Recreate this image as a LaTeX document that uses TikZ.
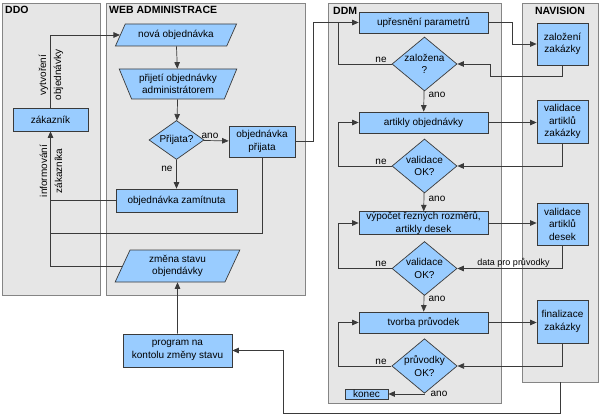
\documentclass[tikz,border=0pt]{standalone}
\usepackage{fontspec}
\setmainfont{Liberation Sans}
\usetikzlibrary{shapes.geometric,arrows.meta}
\definecolor{lanefill}{HTML}{E6E6E6}
\definecolor{laneline}{HTML}{858585}
\definecolor{nodefill}{HTML}{99CCFF}
\definecolor{lineclr}{HTML}{3A3A3A}
\begin{document}
\begin{tikzpicture}[x=1pt,y=-1pt,
  lane/.style={draw=laneline, fill=lanefill, line width=0.9pt, anchor=north west, inner sep=0},
  lanetitle/.style={font=\fontsize{10.5}{12}\selectfont\bfseries, anchor=west, inner sep=0},
  box/.style={draw=lineclr, fill=nodefill, line width=0.7pt, inner sep=0, align=center, font=\fontsize{10}{12.5}\selectfont},
  dia/.style={box, diamond, aspect=1.2},
  para/.style={box, trapezium, trapezium stretches=true},
  conn/.style={draw=lineclr, line width=0.7pt},
  arr/.style={conn, -{Triangle[length=6.5pt,width=5.5pt]}},
  lbl/.style={font=\fontsize{10}{12}\selectfont, inner sep=0},
  rlbl/.style={font=\fontsize{10}{15}\selectfont, inner sep=0, rotate=90, align=center},
]
\useasboundingbox (0,0) rectangle (600,417);
% lanes
\node[lane, minimum width=98pt, minimum height=292pt] (ddo) at (2,3) {};
\node[lane, minimum width=199pt, minimum height=292pt] (web) at (106,3) {};
\node[lane, minimum width=172.5pt, minimum height=400pt] (ddm) at (328,3) {};
\node[lane, minimum width=76pt, minimum height=379pt] (nav) at (522,3) {};
\node[lanetitle] (tddo) at (5,10) {DDO};
\node[lanetitle] (tweb) at (109,10) {WEB ADMINISTRACE};
\node[lanetitle] (tddm) at (333,11) {DDM};
\node[lanetitle, anchor=center] (tnav) at (560,11) {NAVISION};
% DDO + WEB nodes
\node[box, minimum width=75pt, minimum height=23pt] (zak) at (50.5,119.5) {zákazník};
\node[para, minimum width=122pt, minimum height=22pt, trapezium left angle=52.3, trapezium right angle=127.7] (nova) at (176,35) {nová objednávka};
\node[para, minimum width=118pt, minimum height=30pt, trapezium left angle=62.5, trapezium right angle=62.5, shape border rotate=180] (prij) at (178,84) {přijetí objednávky\\administrátorem};
\node[dia, minimum width=55pt, minimum height=39pt] (pq) at (176.5,140) {Přijata?};
\node[box, minimum width=66pt, minimum height=31pt] (pok) at (262,141.5) {objednávka\\přijata};
\node[box, minimum width=121pt, minimum height=23pt] (zam) at (176.5,200.5) {objednávka zamítnuta};
\node[para, minimum width=125pt, minimum height=32pt, trapezium left angle=67.9, trapezium right angle=112.1] (zmena) at (177.5,266) {změna stavu\\objendávky};
\node[box, minimum width=109pt, minimum height=33pt] (prog) at (177.5,350.5) {program na\\kontolu změny stavu};
% DDM nodes
\node[box, minimum width=129pt, minimum height=21pt] (upr) at (423.5,22.5) {upřesnění parametrů};
\node[dia, minimum width=65pt, minimum height=54pt] (zq) at (424.5,64) {založena\\?};
\node[box, minimum width=129pt, minimum height=21pt] (art) at (423.5,122.5) {artikly objednávky};
\node[dia, minimum width=65pt, minimum height=54pt] (v1) at (424.5,166) {validace\\OK?};
\node[box, minimum width=129pt, minimum height=22pt] (vyp) at (423.5,223) {výpočet řezných rozměrů,\\artikly desek};
\node[dia, minimum width=65pt, minimum height=54pt] (v2) at (424.5,268.5) {validace\\OK?};
\node[box, minimum width=129pt, minimum height=21pt] (tvor) at (423.5,322.5) {tvorba průvodek};
\node[dia, minimum width=65pt, minimum height=54pt] (v3) at (424.5,366) {průvodky\\OK?};
\node[box, minimum width=43pt, minimum height=10pt] (konec) at (366.5,394) {konec};
% NAVISION nodes
\node[box, minimum width=51pt, minimum height=42pt] (zal) at (562.5,44) {založení\\zakázky};
\node[box, minimum width=51pt, minimum height=43pt] (vart) at (562.5,121.5) {validace\\artiklů\\zakázky};
\node[box, minimum width=51pt, minimum height=42pt] (vdes) at (562.5,224) {validace\\artiklů\\desek};
\node[box, minimum width=51pt, minimum height=43pt] (fin) at (562.5,321.5) {finalizace\\zakázky};
% coordinates
\coordinate (cinf) at (50.5,233);
\coordinate (nb) at (560.5,382);
% left connectors
\draw[arr] (zak.north) |- (nova.west);
\draw[arr] (nova) -- (prij);
\draw[arr] (prij) -- (pq);
\draw[arr] (pq) -- (pok);
\draw[arr] (pq) -- (zam);
\draw[arr] (zmena.west) -| (zak.south);
\draw[conn] (zam.west) -- (zam.west -| zak.south);
\draw[conn] (pok.south) |- (cinf);
\draw[arr] (prog) -- (zmena);
\draw[arr] (nb) -- (560.5,413) -- (283,413) |- (prog.east);
\draw[arr] (pok.east) -- (313,141.5) |- (upr.west);
\node[rlbl] (lvytv) at (51,75) {vytvoření\\objednávky};
\node[rlbl] (linf) at (51,171) {informování\\zákazníka};
\node[lbl] (lano0) at (210,135.5) {ano};
\node[lbl] (lne0) at (167,169) {ne};
% DDM connectors
\draw[arr] (upr.east) -- ++(24,0) |- (zal.west);
\draw[arr] (zal.south) -- ++(0,11) -| ([xshift=33pt]zq.east) -- (zq.east);
\draw[conn] (zq.west) -| ([xshift=-20pt]upr.west);
\draw[arr] (zq) -- (art);
\draw[arr] (art.east) -- (art.east -| vart.west);
\draw[arr] (vart.south) |- (v1.east);
\draw[arr] (v1.west) -| ([xshift=-20pt]art.west) -- (art.west);
\draw[arr] (v1) -- (vyp);
\draw[arr] (vyp.east) -- (vyp.east -| vdes.west);
\draw[arr] (vdes.south) |- (v2.east);
\draw[arr] (v2.west) -| ([xshift=-20pt]vyp.west) -- (vyp.west);
\draw[arr] (v2) -- (tvor);
\draw[arr] (tvor.east) -- (tvor.east -| fin.west);
\draw[arr] (fin.south) |- (v3.east);
\draw[arr] (v3.west) -| ([xshift=-20pt]tvor.west) -- (tvor.west);
\draw[arr] (v3.south) |- (konec.east);
% labels
\node[lbl] (lne1) at (381,60) {ne};
\node[lbl] (lne2) at (381,162) {ne};
\node[lbl] (lne3) at (381,264) {ne};
\node[lbl] (lne4) at (381,362) {ne};
\node[lbl] (lano1) at (437,95) {ano};
\node[lbl] (lano2) at (437,199) {ano};
\node[lbl] (lano3) at (437,299) {ano};
\node[lbl] (lano4) at (439,394) {ano};
\node[lbl, font=\fontsize{9}{11}\selectfont] (ldata) at (513.5,262.5) {data pro průvodky};
\end{tikzpicture}
\end{document}
